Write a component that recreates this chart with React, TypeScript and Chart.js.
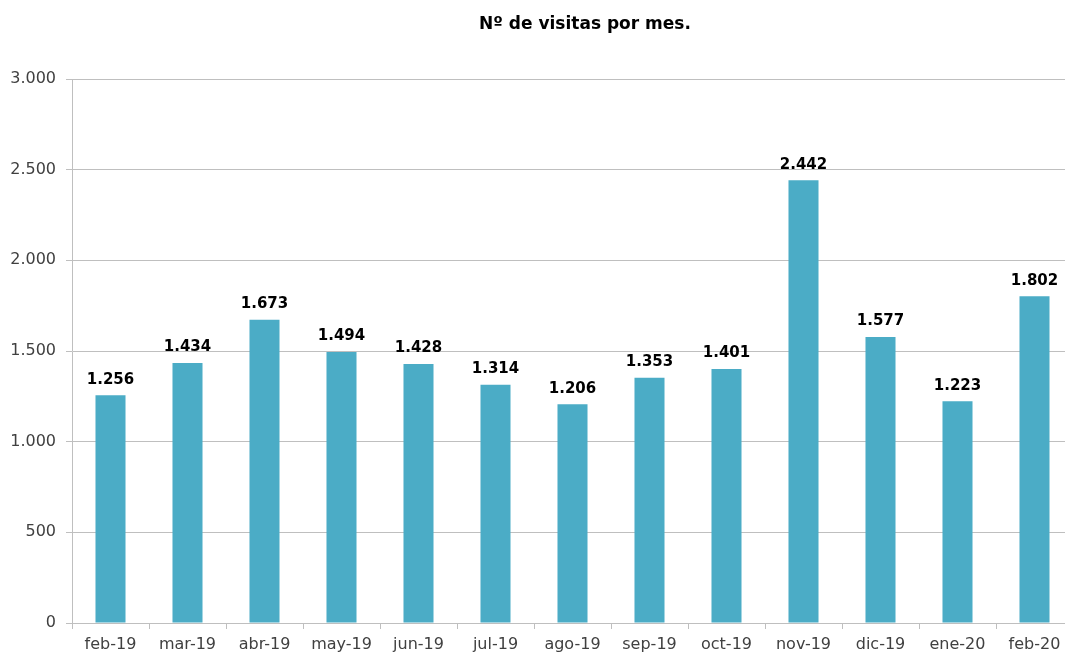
import React, { useEffect, useRef } from "react";
import { Chart, registerables } from "chart.js";

Chart.register(...registerables);

const categories = ["feb-19", "mar-19", "abr-19", "may-19", "jun-19", "jul-19", "ago-19", "sep-19", "oct-19", "nov-19", "dic-19", "ene-20", "feb-20"];
const visitas = [1256, 1434, 1673, 1494, 1428, 1314, 1206, 1353, 1401, 2442, 1577, 1223, 1802];
const chartTitle = "Nº de visitas por mes.";

const fmt = (v: number) => String(Math.round(v)).replace(/\B(?=(\d{3})+(?!\d))/g, ".");

const FONT = "'DejaVu Sans', sans-serif";

const labelPlugin = {
  id: "barLabels",
  afterDatasetsDraw(chart: any) {
    const ctx = chart.ctx;
    const meta = chart.getDatasetMeta(0);
    ctx.save();
    ctx.font = `bold 15px ${FONT}`;
    ctx.fillStyle = "#000000";
    ctx.textAlign = "center";
    ctx.textBaseline = "bottom";
    meta.data.forEach((el: any, i: number) => {
      ctx.fillText(fmt(visitas[i]), el.x, el.y - 8);
    });
    ctx.restore();
  },
};

const titlePlugin = {
  id: "customTitle",
  afterDraw(chart: any) {
    const ctx = chart.ctx;
    ctx.save();
    ctx.font = `bold 17px ${FONT}`;
    ctx.fillStyle = "#000000";
    ctx.textAlign = "center";
    ctx.textBaseline = "middle";
    ctx.fillText(chartTitle, 585, 25);
    ctx.restore();
  },
};

export default function App() {
  const ref = useRef<HTMLCanvasElement>(null);
  useEffect(() => {
    if (!ref.current) return;
    const chart = new Chart(ref.current, {
      type: "bar",
      data: {
        labels: categories,
        datasets: [
          {
            data: visitas,
            backgroundColor: "#4BACC6",
            borderWidth: 0,
            barPercentage: 0.39,
            categoryPercentage: 1,
          },
        ],
      },
      plugins: [labelPlugin, titlePlugin],
      options: {
        responsive: false,
        animation: false,
        layout: { padding: { left: 0, right: 0, top: 79, bottom: 0 } },
        plugins: {
          legend: { display: false },
          tooltip: { enabled: false },
          title: { display: false },
        },
        scales: {
          x: {
            grid: {
              display: true,
              drawOnChartArea: false,
              offset: true,
              color: "#BFBFBF",
              tickLength: 6,
            },
            border: { color: "#BFBFBF", width: 1 },
            ticks: {
              color: "#404040",
              font: { family: FONT, size: 16 },
              padding: 6,
              maxRotation: 0,
              autoSkip: false,
            },
            afterFit(scale: any) {
              scale.height = 32;
            },
          },
          y: {
            min: 0,
            max: 3000,
            ticks: {
              stepSize: 500,
              color: "#404040",
              font: { family: FONT, size: 16 },
              padding: 10,
              callback: (v: any) => fmt(Number(v)),
            },
            grid: { color: "#BFBFBF", tickLength: 6 },
            border: { color: "#BFBFBF", width: 1 },
            afterFit(scale: any) {
              scale.width = 72;
            },
          },
        },
      },
    });
    return () => chart.destroy();
  }, []);
  return (
    <div style={{ position: "fixed", left: 0, top: 0, width: 1065, height: 655, overflow: "hidden", background: "#fff" }}>
      <canvas ref={ref} width={1073} height={655} style={{ display: "block", width: 1073, height: 655 }} />
    </div>
  );
}
